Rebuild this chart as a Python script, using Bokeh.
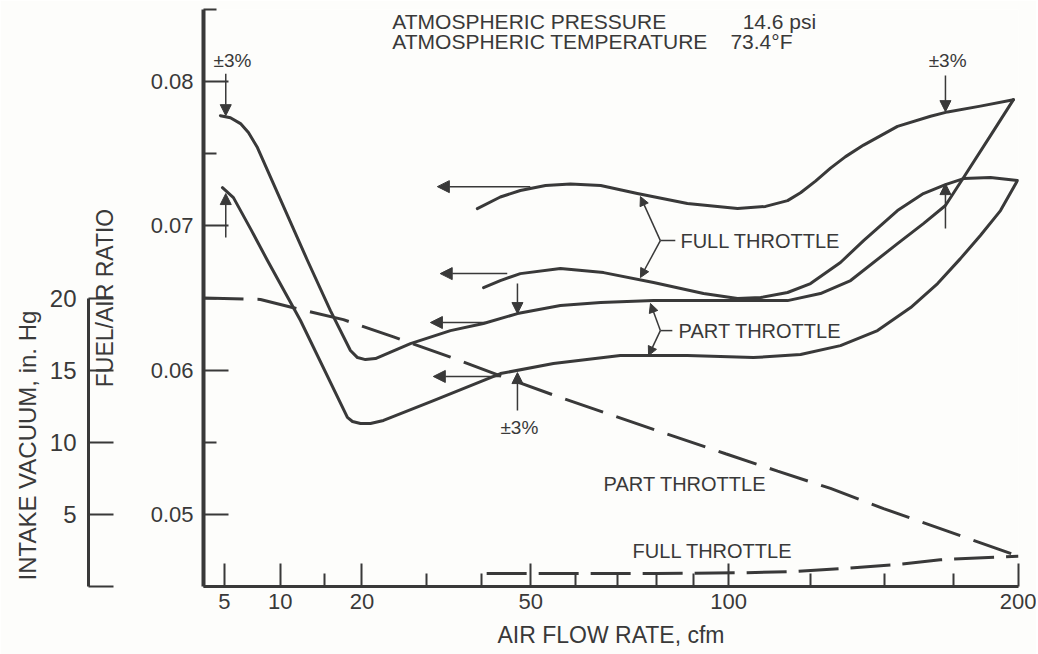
import numpy as np
from bokeh.plotting import figure
from bokeh.models import (Range1d, LinearAxis, FixedTicker, CustomJSTickFormatter,
                          Arrow, NormalHead, Label, Title)
from bokeh.embed import file_html
from bokeh.resources import INLINE

# ---------------- data ----------------
# The air-flow axis of the original is a compressed scale (about cfm ** 0.55)
SCALE_POWER = 0.55
x_limits = [3.53, 200]
x_major_ticks = [5, 10, 20, 50, 100, 200]
x_minor_ticks = [15, 30, 40, 60, 70, 80, 90, 125, 150, 175]
fa_limits = [0.045, 0.085]
fa_major_ticks = [0.05, 0.06, 0.07, 0.08]
fa_minor_ticks = [0.045, 0.055, 0.065, 0.075, 0.085]
vac_limits = [0, 40]
vac_ticks = [0, 5, 10, 15, 20]

# fuel/air ratio, full throttle band
full_upper_cfm = [39.2, 43.7, 47.8, 53.2, 58.8, 65.9, 75.0, 88.3, 102.6, 111.0, 117.8,
                  121.9, 126.7, 131.6, 136.6, 142.7, 154.5, 166.4, 172.7, 185.1, 198.0]
full_upper_fa = [0.0712, 0.0720, 0.07245, 0.0728, 0.0729, 0.0728, 0.07225, 0.07155, 0.0712,
                 0.07135, 0.07175, 0.0723, 0.0731, 0.0740, 0.0748, 0.0756, 0.0769, 0.0776,
                 0.0779, 0.0783, 0.07875]
full_lower_cfm = [40.4, 43.7, 47.8, 56.5, 66.6, 79.2, 92.8, 102.6, 109.5, 117.8, 125.1,
                  134.9, 142.7, 154.5, 163.8, 171.9, 178.7, 189.0, 199.6]
full_lower_fa = [0.06572, 0.06621, 0.06669, 0.06704, 0.06676, 0.06607, 0.06531, 0.06496,
                 0.06503, 0.06538, 0.0660, 0.06746, 0.06898, 0.07106, 0.07224, 0.07286,
                 0.07328, 0.07335, 0.07314]

# fuel/air ratio, part throttle band
part_upper_cfm = [4.70, 5.46, 6.28, 6.96, 7.77, 12.99, 15.78, 18.41, 19.38, 20.50, 21.95,
                  27.37, 34.22, 40.38, 47.21, 56.5, 65.9, 79.2, 97.6, 117.8, 128.3, 138.3,
                  154.5, 163.8, 171.9, 178.7, 189.0, 198.0]
part_upper_fa = [0.07764, 0.0775, 0.07709, 0.07647, 0.07543, 0.0676, 0.06413, 0.06136,
                 0.06087, 0.06073, 0.0608, 0.06184, 0.06274, 0.06323, 0.06392, 0.06448,
                 0.06469, 0.06482, 0.06482, 0.06482, 0.06531, 0.06621, 0.06877, 0.07016,
                 0.07141, 0.07335, 0.07626, 0.07875]
part_lower_cfm = [4.85, 5.70, 7.14, 8.72, 12.19, 18.0, 18.69, 19.80, 21.22, 23.15, 31.23,
                  43.73, 54.94, 70.7, 88.3, 107.3, 121.9, 134.9, 147.5, 159.2, 169.0,
                  177.5, 185.1, 192.9, 199.6]
part_lower_fa = [0.07265, 0.07196, 0.06981, 0.0676, 0.06344, 0.05672, 0.05644, 0.0563,
                 0.0563, 0.05651, 0.05789, 0.05976, 0.06046, 0.06101, 0.06101, 0.06087,
                 0.06108, 0.0617, 0.06274, 0.06434, 0.066, 0.06773, 0.06933, 0.07106,
                 0.07314]

# intake vacuum (in. Hg), dashed
vac_part_cfm = [3.53, 8.05, 12.19, 17.47, 24.68, 34.22, 43.73, 56.5, 80.2, 99.1, 114.7,
                131.6, 149.6, 200]
vac_part = [20.0, 19.9, 19.2, 18.5, 17.3, 15.9, 14.6, 13.1, 10.8, 9.2, 8.0, 6.8, 5.4, 2.1]
vac_full_cfm = [41, 60, 80, 104, 121, 136, 153, 170, 186, 200]
vac_full = [0.9, 0.9, 0.9, 0.95, 1.05, 1.25, 1.5, 1.85, 2.0, 2.1]

# leftward pointers (curves read on the fuel/air scale)
ptr_from_cfm = [49.9, 45.1, 40.8, 43.7]
ptr_to_cfm = [31.9, 32.4, 30.7, 31.2]
ptr_fa = [0.07272, 0.06669, 0.0633, 0.05956]

# +-3 % tolerance arrows
tol_cfm = [5.1, 5.1, 47.2, 47.2, 171.9, 171.9]
tol_from_fa = [0.08055, 0.06919, 0.0660, 0.0572, 0.08042, 0.06981]
tol_to_fa = [0.07764, 0.07224, 0.06392, 0.05983, 0.07792, 0.07293]
tol_label_cfm = [5.62, 47.6, 172.7]
tol_label_fa = [0.08146, 0.05602, 0.08146]

# brace pointers: junction, upper tip, lower tip, stub end
brace_names = ["FULL THROTTLE", "PART THROTTLE"]
brace_junction_cfm = [81.0, 81.0]
brace_fa = [0.06898, 0.06274]
brace_up_cfm = [75.8, 78.4]
brace_up_fa = [0.07203, 0.06462]
brace_dn_cfm = [75.8, 77.9]
brace_dn_fa = [0.06642, 0.06101]
brace_stub_cfm = [85.0, 84.2]
brace_label_cfm = [86.4, 85.9]

# labels of the dashed curves (vacuum scale)
dash_label_text = ["PART THROTTLE", "FULL THROTTLE"]
dash_label_cfm = [66.6, 73.8]
dash_label_vac = [7.1, 2.44]

# conditions block
cond_text = ["ATMOSPHERIC PRESSURE", "ATMOSPHERIC TEMPERATURE"]
cond_values = ["14.6 psi", "73.4\u00b0F"]
cond_cfm = 24.5
cond_value_cfm = [104.1, 100.5]
cond_fa = [0.08416, 0.08277]

vac_title = "INTAKE VACUUM, in. Hg"


def u(v):
    return np.asarray(v, dtype=float) ** SCALE_POWER


INK = "#393939"
BG = "#fdfdfb"
SANS = "Liberation Sans"

x_start, x_end = float(u(x_limits[0])), float(u(x_limits[1]))
p = figure(width=1036, height=654,
           x_range=Range1d(x_start, x_end),
           y_range=Range1d(*fa_limits),
           output_backend="svg", toolbar_location=None,
           min_border_left=203, min_border_right=18, min_border_top=9, min_border_bottom=68,
           background_fill_color=BG, border_fill_color=BG, outline_line_color=None)
p.extra_y_ranges = {"vac": Range1d(*vac_limits)}
p.xgrid.visible = False
p.ygrid.visible = False


def style_axis(ax, label_size, title_size):
    ax.axis_line_color = INK
    ax.axis_line_width = 3
    ax.major_tick_line_color = INK
    ax.minor_tick_line_color = INK
    ax.major_tick_line_width = 2
    ax.minor_tick_line_width = 2
    ax.major_tick_out = 0
    ax.minor_tick_out = 0
    ax.major_label_text_font = SANS
    ax.major_label_text_font_size = label_size
    ax.major_label_text_color = INK
    ax.axis_label_text_font = SANS
    ax.axis_label_text_font_size = title_size
    ax.axis_label_text_font_style = "normal"
    ax.axis_label_text_color = INK


xa = p.xaxis[0]
style_axis(xa, "22px", "23px")
xa.ticker = FixedTicker(ticks=u(x_major_ticks).tolist(), minor_ticks=u(x_minor_ticks).tolist())
xa.formatter = CustomJSTickFormatter(
    code="return Math.round(Math.pow(tick, 1/%s)).toString();" % SCALE_POWER)
xa.major_tick_in = 23
xa.minor_tick_in = 13
xa.major_label_standoff = 7
xa.axis_label = "AIR FLOW RATE, cfm"
xa.axis_label_standoff = 10

ya = p.yaxis[0]
style_axis(ya, "22px", "23px")
ya.axis_line_width = 4
ya.ticker = FixedTicker(ticks=fa_major_ticks, minor_ticks=fa_minor_ticks)
ya.formatter = CustomJSTickFormatter(code="return tick.toFixed(2);")
ya.major_tick_in = 25
ya.minor_tick_in = 13
ya.major_label_standoff = 10
ya.axis_label = "FUEL/AIR RATIO"
ya.axis_label_standoff = 30

va = LinearAxis(y_range_name="vac", bounds=(0, 20),
                ticker=FixedTicker(ticks=vac_ticks, minor_ticks=[]),
                formatter=CustomJSTickFormatter(code="return tick == 0 ? '' : tick.toFixed(0);"))
style_axis(va, "24px", "24px")
va.major_tick_in = 25
va.minor_tick_in = 0
va.major_label_standoff = 12
p.add_layout(va, "left")

# title of the vacuum scale: starts near the bottom of the frame, outside its tick labels
p.add_layout(Title(text=vac_title, align="left", offset=6, standoff=12,
                   text_font=SANS, text_font_size="24px", text_font_style="normal",
                   text_color=INK), "left")

# ---------------- curves ----------------
for xs, ys in [(full_upper_cfm, full_upper_fa), (full_lower_cfm, full_lower_fa),
               (part_upper_cfm, part_upper_fa), (part_lower_cfm, part_lower_fa)]:
    p.line(u(xs), ys, line_color=INK, line_width=3, line_join="round", line_cap="round")

p.line(u(vac_part_cfm), vac_part, y_range_name="vac", line_color=INK, line_width=3,
       line_dash="40 14")
p.line(u(vac_full_cfm), vac_full, y_range_name="vac", line_color=INK, line_width=3,
       line_dash="40 12")


def head(size):
    return NormalHead(size=size, fill_color=INK, line_color=INK, line_width=1)


for x0, x1, y in zip(ptr_from_cfm, ptr_to_cfm, ptr_fa):
    p.add_layout(Arrow(end=head(12), x_start=float(u(x0)), y_start=y,
                       x_end=float(u(x1)), y_end=y, line_color=INK, line_width=1.5))

for x, y0, y1 in zip(tol_cfm, tol_from_fa, tol_to_fa):
    p.add_layout(Arrow(end=head(11), x_start=float(u(x)), y_start=y0,
                       x_end=float(u(x)), y_end=y1, line_color=INK, line_width=1.5))

for x, y in zip(tol_label_cfm, tol_label_fa):
    p.add_layout(Label(x=float(u(x)), y=y, text="\u00b13%", text_font=SANS,
                       text_font_size="19px", text_color=INK, text_align="center",
                       text_baseline="middle"))

for i, name in enumerate(brace_names):
    jx = float(u(brace_junction_cfm[i]))
    jy = brace_fa[i]
    for tx, ty in [(brace_up_cfm[i], brace_up_fa[i]), (brace_dn_cfm[i], brace_dn_fa[i])]:
        p.add_layout(Arrow(end=head(9), x_start=jx, y_start=jy, x_end=float(u(tx)), y_end=ty,
                           line_color=INK, line_width=1.5))
    p.line(u([brace_junction_cfm[i], brace_stub_cfm[i]]), [jy, jy], line_color=INK,
           line_width=1.5)
    p.add_layout(Label(x=float(u(brace_label_cfm[i])), y=jy, text=name, text_font=SANS,
                       text_font_size="20px", text_color=INK, text_baseline="middle"))

for t, x, y in zip(dash_label_text, dash_label_cfm, dash_label_vac):
    p.add_layout(Label(x=float(u(x)), y=y, y_range_name="vac", text=t, text_font=SANS,
                       text_font_size="20px", text_color=INK, text_baseline="middle"))

for t, v, vx, y in zip(cond_text, cond_values, cond_value_cfm, cond_fa):
    p.add_layout(Label(x=float(u(cond_cfm)), y=y, text=t, text_font=SANS,
                       text_font_size="21px", text_color=INK, text_baseline="middle"))
    p.add_layout(Label(x=float(u(vx)), y=y, text=v, text_font=SANS,
                       text_font_size="21px", text_color=INK, text_baseline="middle"))

open("out.html", "w").write(file_html(p, INLINE))
